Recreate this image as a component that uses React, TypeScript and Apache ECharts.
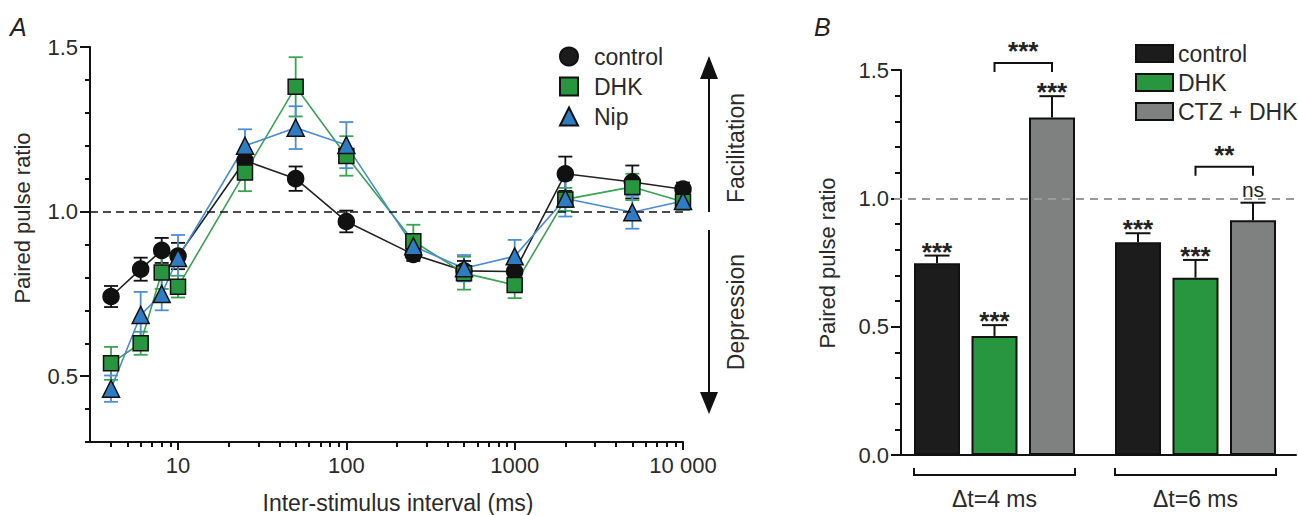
import React, { useEffect, useRef } from 'react';
import * as echarts from 'echarts';

// ---------- Panel A data ----------
const intervals = [4, 6, 8, 10, 25, 50, 100, 250, 500, 1000, 2000, 5000, 10000];
const controlA = [0.742, 0.825, 0.882, 0.865, 1.155, 1.1, 0.97, 0.87, 0.82, 0.818, 1.115, 1.09, 1.068];
const controlAErr = [0.032, 0.035, 0.038, 0.04, 0.03, 0.037, 0.033, 0.02, 0.03, 0.03, 0.052, 0.05, 0.02];
const dhkA = [0.539, 0.6, 0.815, 0.772, 1.119, 1.379, 1.169, 0.91, 0.813, 0.777, 1.037, 1.075, 1.03];
const dhkAErr = [0.05, 0.035, 0.05, 0.033, 0.057, 0.09, 0.06, 0.05, 0.05, 0.04, 0.035, 0.04, 0.025];
const nipA = [0.462, 0.686, 0.75, 0.859, 1.2, 1.255, 1.202, 0.895, 0.828, 0.864, 1.04, 0.998, 1.032];
const nipAErr = [0.04, 0.07, 0.05, 0.07, 0.05, 0.065, 0.07, 0.03, 0.04, 0.05, 0.055, 0.05, 0.02];

const xMajorTicksA = [10, 100, 1000, 10000];
const xMinorTicksA = [4, 5, 6, 7, 8, 9, 20, 30, 40, 50, 60, 70, 80, 90, 200, 300, 400, 500, 600, 700, 800, 900, 2000, 3000, 4000, 5000, 6000, 7000, 8000, 9000];
const yMajorTicksA = [0.5, 1.0, 1.5];
const yMinorTicksA = [0.3, 0.4, 0.6, 0.7, 0.8, 0.9, 1.1, 1.2, 1.3, 1.4];

// ---------- Panel B data ----------
const groupsB = ['Δt=4 ms', 'Δt=6 ms'];
const controlB = [0.747, 0.829];
const controlBErr = [0.03, 0.035];
const dhkB = [0.464, 0.691];
const dhkBErr = [0.042, 0.069];
const ctzB = [1.315, 0.915];
const ctzBErr = [0.083, 0.068];
const starsControlB = ['***', '***'];
const starsDhkB = ['***', '***'];
const starsCtzB = ['***', 'ns'];
const bracketLevelsB = [1.527, 1.123];
const bracketLabelsB = ['***', '**'];

const FONT = "'Liberation Sans', Arial, Helvetica, sans-serif";
const TXT = '#2a2a2a';
const GREEN = '#27963f';
const BLUE = '#2d7cc4';
const BAR_W = 46;
const BAR_GAP = 11.5;

function errRenderer(color: string, half: number) {
  return (params: any, api: any) => {
    const x = api.value(0);
    const lo = api.coord([x, api.value(1)]);
    const hi = api.coord([x, api.value(2)]);
    const style = { stroke: color, lineWidth: 1.8 };
    return {
      type: 'group',
      children: [
        { type: 'line', shape: { x1: lo[0], y1: lo[1], x2: hi[0], y2: hi[1] }, style },
        { type: 'line', shape: { x1: lo[0] - half, y1: lo[1], x2: lo[0] + half, y2: lo[1] }, style },
        { type: 'line', shape: { x1: hi[0] - half, y1: hi[1], x2: hi[0] + half, y2: hi[1] }, style },
      ],
    };
  };
}

function barErrRenderer(k: number, stars: string[]) {
  return (params: any, api: any) => {
    const cat = api.value(0);
    const v = api.value(1);
    const e = api.value(2);
    const off = (k - 1) * (BAR_W + BAR_GAP);
    const top = api.coord([cat, v]);
    const hi = api.coord([cat, v + e]);
    const x = top[0] + off;
    const style = { stroke: '#111', lineWidth: 2 };
    const label = stars[params.dataIndex];
    const isStar = label.indexOf('*') >= 0;
    return {
      type: 'group',
      children: [
        { type: 'line', shape: { x1: x, y1: top[1], x2: x, y2: hi[1] }, style },
        { type: 'line', shape: { x1: x - 12.5, y1: hi[1], x2: x + 12.5, y2: hi[1] }, style },
        {
          type: 'text',
          x: x,
          y: isStar ? hi[1] - 4 : hi[1] - 3,
          style: {
            text: label,
            fill: '#222',
            font: isStar ? `bold 26px ${FONT}` : `21px ${FONT}`,
            textAlign: 'center',
            textVerticalAlign: isStar ? 'middle' : 'bottom',
            align: 'center',
            verticalAlign: isStar ? 'middle' : 'bottom',
          },
        },
      ],
    };
  };
}

function bracketRenderer(params: any, api: any) {
  const cat = api.value(0);
  const lvl = api.value(1);
  const p = api.coord([cat, lvl]);
  const x1 = p[0];
  const x2 = p[0] + (BAR_W + BAR_GAP);
  const y = p[1];
  const style = { stroke: '#111', lineWidth: 2 };
  return {
    type: 'group',
    children: [
      { type: 'polyline', shape: { points: [[x1, y + 9], [x1, y], [x2, y], [x2, y + 9]] }, style: { ...style, fill: 'none' } },
      {
        type: 'text',
        x: (x1 + x2) / 2,
        y: y - 12,
        style: {
          text: bracketLabelsB[params.dataIndex],
          fill: '#222',
          font: `bold 26px ${FONT}`,
          textAlign: 'center',
          textVerticalAlign: 'middle',
          align: 'center',
          verticalAlign: 'middle',
        },
      },
    ],
  };
}

function groupBracketRenderer(params: any, api: any) {
  const cat = api.value(0);
  const p = api.coord([cat, 0]);
  const half = 1.5 * BAR_W + BAR_GAP;
  const y0 = p[1] + 13;
  const y1 = p[1] + 20;
  return {
    type: 'polyline',
    shape: { points: [[p[0] - half, y0], [p[0] - half, y1], [p[0] + half, y1], [p[0] + half, y0]] },
    style: { stroke: '#111', lineWidth: 2, fill: 'none' },
  };
}

export default function App() {
  const ref = useRef<HTMLDivElement>(null);

  useEffect(() => {
    if (!ref.current) return;
    const chart = echarts.init(ref.current, undefined, { renderer: 'svg' });

    const axisLine = { show: true, lineStyle: { color: '#111', width: 2 } };
    const tickStyle = { color: '#111', width: 2 };

    const lineSeries = (name: string, vals: number[], symbol: string, fill: string, lineColor: string, size: number, extra: any = {}) => ({
      name,
      type: 'line',
      xAxisIndex: 0,
      yAxisIndex: 0,
      data: intervals.map((x, i) => [x, vals[i]]),
      symbol,
      symbolSize: size,
      showSymbol: true,
      itemStyle: { color: fill, borderColor: '#111', borderWidth: 1.5 },
      lineStyle: { color: lineColor, width: 1.6 },
      z: 3,
      ...extra,
    });

    const errSeries = (vals: number[], errs: number[], color: string) => ({
      type: 'custom',
      xAxisIndex: 0,
      yAxisIndex: 0,
      clip: false,
      silent: true,
      renderItem: errRenderer(color, 7),
      data: intervals.map((x, i) => [x, vals[i] - errs[i], vals[i] + errs[i]]),
      encode: { x: 0, y: [1, 2] },
      z: 2,
    });

    const barSeries = (name: string, vals: number[], color: string, extra: any = {}) => ({
      name,
      type: 'bar',
      xAxisIndex: 2,
      yAxisIndex: 2,
      data: vals,
      barWidth: BAR_W,
      barGap: '25%',
      itemStyle: { color, borderColor: '#111', borderWidth: 2 },
      z: 2,
      ...extra,
    });

    const barErrSeries = (k: number, vals: number[], errs: number[], stars: string[]) => ({
      type: 'custom',
      xAxisIndex: 2,
      yAxisIndex: 2,
      clip: false,
      silent: true,
      renderItem: barErrRenderer(k, stars),
      data: vals.map((v, i) => [i, v, errs[i]]),
      encode: { x: 0, y: 1 },
      z: 3,
    });

    const option: any = {
      animation: false,
      backgroundColor: '#fff',
      textStyle: { fontFamily: FONT },
      grid: [
        { left: 90, right: 615, top: 47, bottom: 73 },
        { left: 894, right: 2, top: 70, bottom: 60 },
      ],
      legend: [
        {
          data: [
            { name: 'control', icon: 'circle' },
            { name: 'DHK', icon: 'rect' },
            { name: 'Nip', icon: 'triangle' },
          ],
          orient: 'vertical',
          left: 554,
          top: 40,
          itemWidth: 18,
          itemHeight: 18,
          itemGap: 7,
          selectedMode: false,
          textStyle: { fontSize: 23, color: TXT, fontFamily: FONT, padding: [0, 0, 0, 11] },
        },
        {
          data: [
            { name: 'control', icon: 'rect' },
            { name: 'DHK', icon: 'rect' },
            { name: 'CTZ + DHK', icon: 'rect' },
          ],
          orient: 'vertical',
          left: 1130,
          top: 37,
          itemWidth: 37,
          itemHeight: 17,
          itemGap: 6,
          selectedMode: false,
          textStyle: { fontSize: 23, color: TXT, fontFamily: FONT },
        },
      ],
      xAxis: [
        {
          type: 'log',
          logBase: 10,
          gridIndex: 0,
          min: 3,
          max: 10000,
          position: 'bottom',
          axisLine,
          splitLine: { show: false },
          axisTick: { show: true, length: 8, lineStyle: tickStyle, customValues: xMajorTicksA },
          axisLabel: {
            customValues: xMajorTicksA,
            fontSize: 22,
            color: TXT,
            margin: 12,
            formatter: (v: number) => {
              const r = Math.round(v);
              return r === 10000 ? '10 000' : String(r);
            },
          },
        },
        {
          type: 'log',
          logBase: 10,
          gridIndex: 0,
          min: 3,
          max: 10000,
          position: 'bottom',
          axisLine: { show: false },
          splitLine: { show: false },
          axisTick: { show: true, length: 5, lineStyle: tickStyle, customValues: xMinorTicksA },
          axisLabel: { show: false },
        },
        {
          type: 'category',
          gridIndex: 1,
          data: groupsB,
          axisLine,
          axisTick: { show: false },
          axisLabel: { fontSize: 23, color: TXT, margin: 32 },
        },
      ],
      yAxis: [
        {
          type: 'value',
          gridIndex: 0,
          min: 0.3,
          max: 1.5,
          position: 'left',
          axisLine,
          splitLine: { show: false },
          axisTick: { show: true, length: 10, lineStyle: tickStyle, customValues: yMajorTicksA },
          axisLabel: {
            customValues: yMajorTicksA,
            fontSize: 22,
            color: TXT,
            margin: 12,
            formatter: (v: number) => v.toFixed(1),
          },
        },
        {
          type: 'value',
          gridIndex: 0,
          min: 0.3,
          max: 1.5,
          position: 'left',
          offset: 0,
          axisLine: { show: false },
          splitLine: { show: false },
          axisTick: { show: true, length: 5, lineStyle: tickStyle, customValues: yMinorTicksA },
          axisLabel: { show: false },
        },
        {
          type: 'value',
          gridIndex: 1,
          min: 0,
          max: 1.5,
          interval: 0.5,
          offset: -7,
          position: 'left',
          axisLine,
          splitLine: { show: false },
          axisTick: { show: true, length: 10, lineStyle: tickStyle },
          minorTick: { show: true, splitNumber: 5, length: 6, lineStyle: tickStyle },
          axisLabel: { fontSize: 22, color: TXT, margin: 12, formatter: (v: number) => v.toFixed(1) },
        },
      ],
      series: [
        // Panel B bars first (legend styles)
        barSeries('control', controlB, '#1c1c1c'),
        barSeries('DHK', dhkB, GREEN),
        barSeries('CTZ + DHK', ctzB, '#7f8080', {
          markLine: {
            silent: true,
            symbol: 'none',
            label: { show: false },
            lineStyle: { color: '#9a9a9a', type: [8, 6], width: 2 },
            data: [{ yAxis: 1 }],
          },
        }),
        barErrSeries(0, controlB, controlBErr, starsControlB),
        barErrSeries(1, dhkB, dhkBErr, starsDhkB),
        barErrSeries(2, ctzB, ctzBErr, starsCtzB),
        {
          type: 'custom',
          xAxisIndex: 2,
          yAxisIndex: 2,
          clip: false,
          silent: true,
          renderItem: bracketRenderer,
          data: bracketLevelsB.map((v, i) => [i, v]),
          encode: { x: 0, y: 1 },
          z: 3,
        },
        {
          type: 'custom',
          xAxisIndex: 2,
          yAxisIndex: 2,
          clip: false,
          silent: true,
          renderItem: groupBracketRenderer,
          data: groupsB.map((g, i) => [i, 0]),
          encode: { x: 0, y: 1 },
          z: 3,
        },
        // Panel A
        errSeries(controlA, controlAErr, '#111'),
        lineSeries('control', controlA, 'circle', '#111', '#222', 16, {
          markLine: {
            silent: true,
            symbol: 'none',
            label: { show: false },
            lineStyle: { color: '#111', type: [8, 5], width: 1.5 },
            data: [{ yAxis: 1 }],
          },
        }),
        errSeries(dhkA, dhkAErr, '#3aa352'),
        lineSeries('DHK', dhkA, 'rect', GREEN, '#3aa352', 15),
        errSeries(nipA, nipAErr, '#4d8fd6'),
        lineSeries('Nip', nipA, 'triangle', BLUE, '#4a8ad2', 17),
      ],
      graphic: [
        { type: 'text', x: 10, y: 14, style: { text: 'A', font: `italic 25px ${FONT}`, fill: '#222' } },
        { type: 'text', x: 814, y: 14, style: { text: 'B', font: `italic 25px ${FONT}`, fill: '#222' } },
        {
          type: 'text', x: 22, y: 218, rotation: Math.PI / 2,
          style: { text: 'Paired pulse ratio', font: `22px ${FONT}`, fill: TXT, textAlign: 'center', textVerticalAlign: 'middle', align: 'center', verticalAlign: 'middle' },
        },
        {
          type: 'text', x: 827, y: 263, rotation: Math.PI / 2,
          style: { text: 'Paired pulse ratio', font: `22px ${FONT}`, fill: TXT, textAlign: 'center', textVerticalAlign: 'middle', align: 'center', verticalAlign: 'middle' },
        },
        {
          type: 'text', x: 398, y: 503,
          style: { text: 'Inter-stimulus interval (ms)', font: `23px ${FONT}`, fill: TXT, textAlign: 'center', textVerticalAlign: 'middle', align: 'center', verticalAlign: 'middle' },
        },
        { type: 'line', shape: { x1: 709, y1: 212, x2: 709, y2: 74 }, style: { stroke: '#111', lineWidth: 2 } },
        { type: 'polygon', shape: { points: [[700, 79], [718, 79], [709, 56]] }, style: { fill: '#111' } },
        { type: 'line', shape: { x1: 709, y1: 230, x2: 709, y2: 396 }, style: { stroke: '#111', lineWidth: 2 } },
        { type: 'polygon', shape: { points: [[700, 392], [718, 392], [709, 414]] }, style: { fill: '#111' } },
        {
          type: 'text', x: 736, y: 148, rotation: Math.PI / 2,
          style: { text: 'Facilitation', font: `23px ${FONT}`, fill: TXT, textAlign: 'center', textVerticalAlign: 'middle', align: 'center', verticalAlign: 'middle' },
        },
        {
          type: 'text', x: 736, y: 312, rotation: Math.PI / 2,
          style: { text: 'Depression', font: `23px ${FONT}`, fill: TXT, textAlign: 'center', textVerticalAlign: 'middle', align: 'center', verticalAlign: 'middle' },
        },
      ],
    };

    chart.setOption(option);
    return () => chart.dispose();
  }, []);

  return (
    <div
      ref={ref}
      style={{ position: 'absolute', left: 0, top: 0, width: 1298, height: 515, background: '#fff' }}
    />
  );
}
